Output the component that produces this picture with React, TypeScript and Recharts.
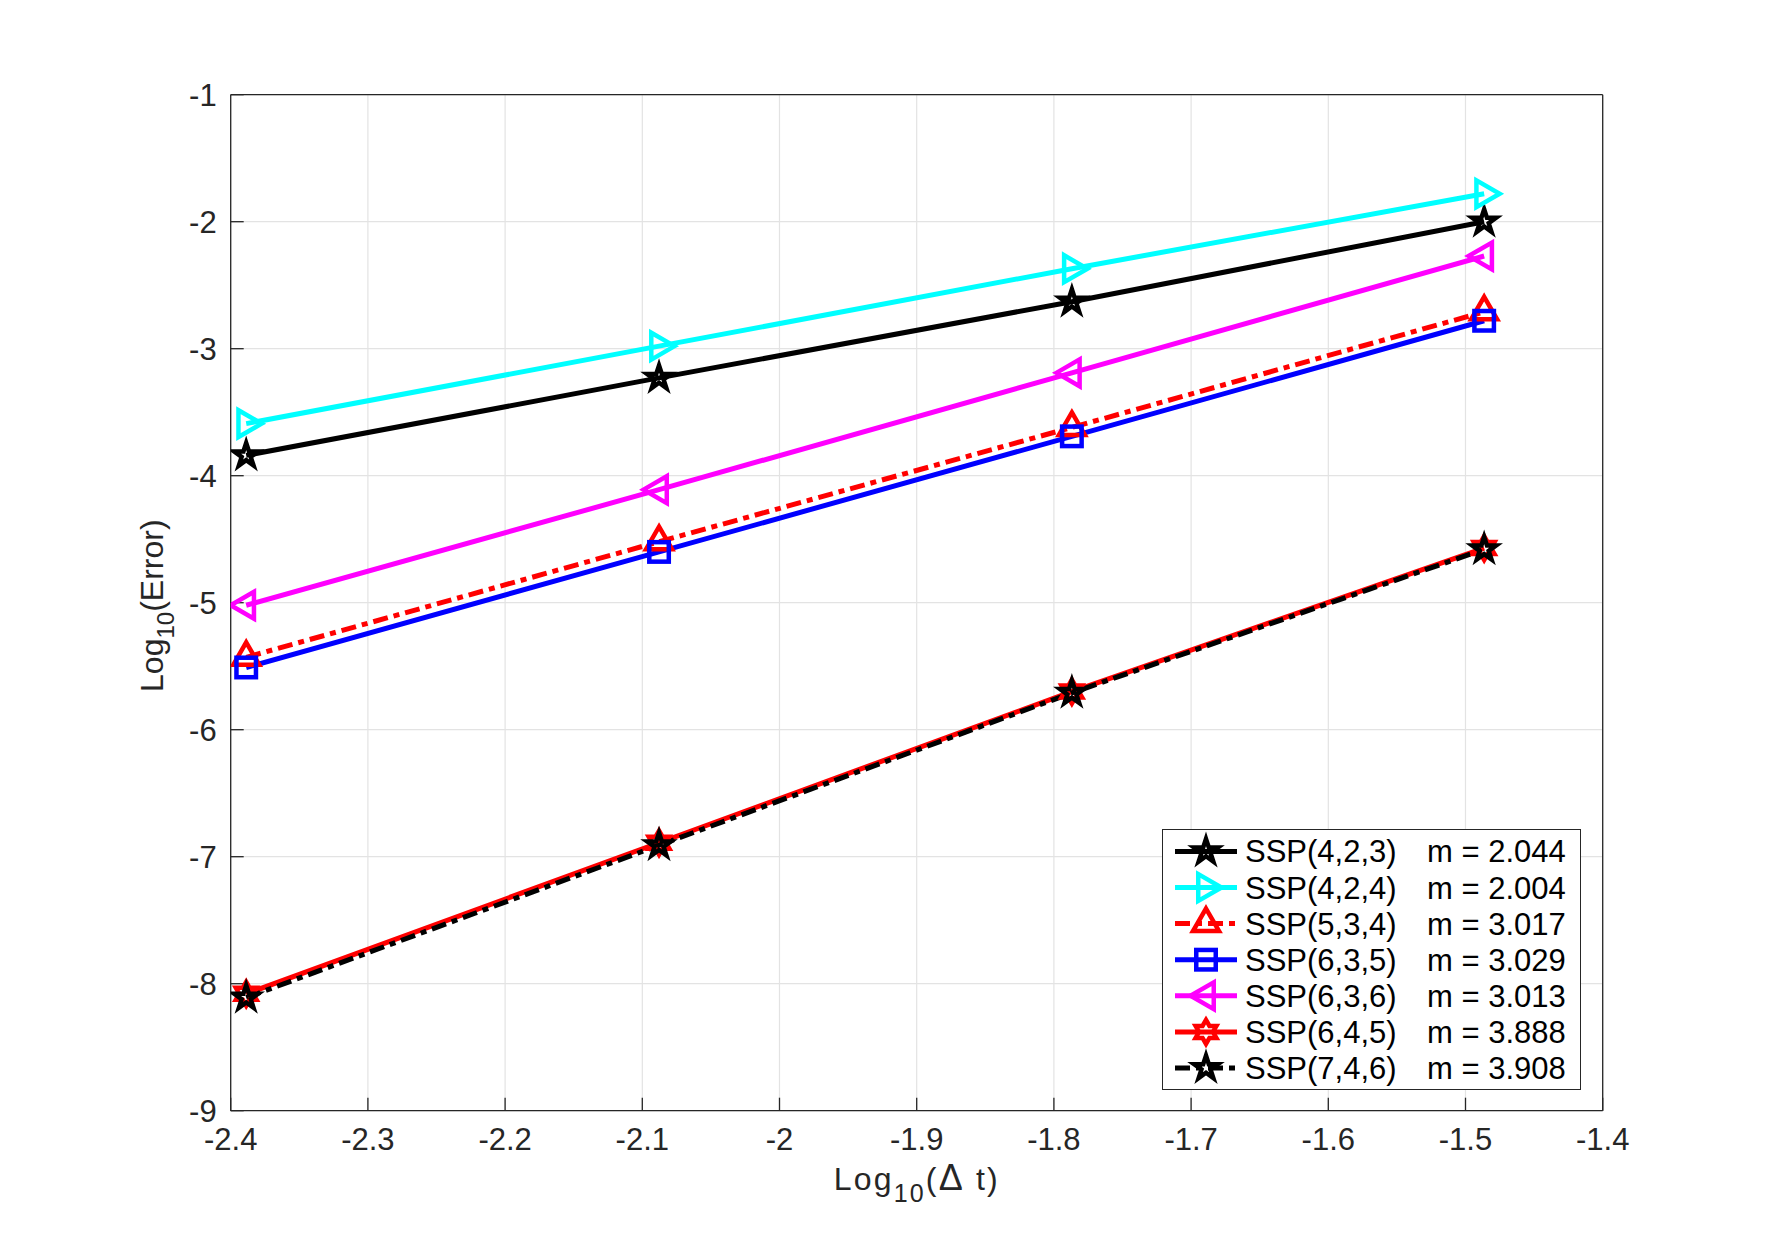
import React from "react";
import { CartesianGrid, Legend, Line, LineChart, XAxis, YAxis } from "recharts";

// log10(dt) at the four refinement levels
const logDt = [-2.3887, -2.0878, -1.7869, -1.4864];

// log10(error) for each scheme
const ssp423 = [-3.84, -3.23, -2.63, -2.0];
const ssp424 = [-3.59, -2.98, -2.37, -1.78];
const ssp534 = [-5.43, -4.52, -3.62, -2.71];
const ssp635 = [-5.51, -4.6, -3.69, -2.78];
const ssp636 = [-5.02, -4.11, -3.19, -2.27];
const ssp645 = [-8.08, -6.89, -5.7, -4.57];
const ssp746 = [-8.11, -6.91, -5.71, -4.58];

const seriesNames = ["SSP(4,2,3)", "SSP(4,2,4)", "SSP(5,3,4)", "SSP(6,3,5)", "SSP(6,3,6)", "SSP(6,4,5)", "SSP(7,4,6)"];
const slopes = ["2.044", "2.004", "3.017", "3.029", "3.013", "3.888", "3.908"];

const xTicks = [-2.4, -2.3, -2.2, -2.1, -2.0, -1.9, -1.8, -1.7, -1.6, -1.5, -1.4];
const yTicks = [-9, -8, -7, -6, -5, -4, -3, -2, -1];

type MarkerKind = "pentagram" | "hexagram" | "triRight" | "triUp" | "triLeft" | "square";

const series: { key: string; values: number[]; color: string; dash?: string; marker: MarkerKind }[] = [
  { key: "s423", values: ssp423, color: "#000000", marker: "pentagram" },
  { key: "s424", values: ssp424, color: "#00ffff", marker: "triRight" },
  { key: "s534", values: ssp534, color: "#ff0000", dash: "15 6 6 6", marker: "triUp" },
  { key: "s635", values: ssp635, color: "#0000ff", marker: "square" },
  { key: "s636", values: ssp636, color: "#ff00ff", marker: "triLeft" },
  { key: "s645", values: ssp645, color: "#ff0000", marker: "hexagram" },
  { key: "s746", values: ssp746, color: "#000000", dash: "15 6 6 6", marker: "pentagram" },
];

const rows = logDt.map((x, i) => {
  const row: Record<string, number> = { x };
  series.forEach((s) => (row[s.key] = s.values[i]));
  return row;
});

const FONT = "'Liberation Sans', Arial, Helvetica, sans-serif";
const INK = "#262626";
const LW = 5;
const MW = 4.5;

function starPoints(cx: number, cy: number, n: number, r1: number, r2: number) {
  const pts: string[] = [];
  for (let k = 0; k < 2 * n; k++) {
    const r = k % 2 === 0 ? r1 : r2;
    const a = -Math.PI / 2 + (k * Math.PI) / n;
    pts.push(`${cx + r * Math.cos(a)},${cy + r * Math.sin(a)}`);
  }
  return pts.join(" ");
}

function triPoints(cx: number, cy: number, r: number, startDeg: number) {
  const pts: string[] = [];
  for (let k = 0; k < 3; k++) {
    const a = ((startDeg + k * 120) * Math.PI) / 180;
    pts.push(`${cx + r * Math.cos(a)},${cy + r * Math.sin(a)}`);
  }
  return pts.join(" ");
}

function Marker({ kind, cx, cy, color }: { kind: MarkerKind; cx: number; cy: number; color: string }) {
  const common = { fill: "none", stroke: color, strokeWidth: MW, strokeLinejoin: "miter" as const, strokeMiterlimit: 10 };
  if (kind === "pentagram") return <polygon points={starPoints(cx, cy, 5, 12.5, 12.5 * 0.382)} {...common} />;
  if (kind === "hexagram") return <polygon points={starPoints(cx, cy, 6, 12, 12 / Math.sqrt(3))} {...common} />;
  if (kind === "triRight") return <polygon points={triPoints(cx, cy, 15.5, 0)} {...common} />;
  if (kind === "triUp") return <polygon points={triPoints(cx, cy, 15, -90)} {...common} />;
  if (kind === "triLeft") return <polygon points={triPoints(cx, cy, 15.5, 180)} {...common} />;
  return <rect x={cx - 9.75} y={cy - 9.75} width={19.5} height={19.5} {...common} />;
}

const fmt = (v: number) => String(Number(v.toFixed(1)));

function XLabel(props: any) {
  const vb = props.viewBox;
  const cx = vb.x + vb.width / 2 - 1;
  return (
    <text
      x={cx - 82}
      y={vb.y + 79}
      textLength={164}
      lengthAdjust="spacing"
      fontFamily={FONT}
      fontSize={32}
      fill={INK}
    >
      Log<tspan dy={12} fontSize={25}>10</tspan>
      <tspan dy={-12}>(</tspan>
      <tspan fontSize={36}>Δ</tspan>
      <tspan> t)</tspan>
    </text>
  );
}

function YLabel(props: any) {
  const vb = props.viewBox;
  const x = vb.x + 12;
  const y = vb.y + vb.height / 2 + 3;
  return (
    <text x={x} y={y} transform={`rotate(-90 ${x} ${y})`} textAnchor="middle" fontFamily={FONT} fontSize={32} fill={INK}>
      Log<tspan dy={11} fontSize={24}>10</tspan>
      <tspan dy={-11}>(Error)</tspan>
    </text>
  );
}

function LegendBox() {
  const rowH = 36.1;
  return (
    <div style={{ width: 419, height: 261, border: `1.5px solid ${INK}`, background: "#fff", boxSizing: "border-box" }}>
      <svg width={417} height={259} style={{ display: "block" }}>
        {series.map((s, i) => {
          const cy = 21.4 + i * rowH;
          return (
            <g key={s.key}>
              <line x1={12} x2={74} y1={cy} y2={cy} stroke={s.color} strokeWidth={LW} strokeDasharray={s.dash} />
              <Marker kind={s.marker} cx={43} cy={cy} color={s.color} />
              <text x={82} y={cy + 11} fontFamily={FONT} fontSize={31} fill="#000">
                {seriesNames[i]}
              </text>
              <text x={264} y={cy + 11} fontFamily={FONT} fontSize={31} fill="#000">
                {`m = ${slopes[i]}`}
              </text>
            </g>
          );
        })}
      </svg>
    </div>
  );
}

export default function App() {
  return (
    <div style={{ position: "absolute", left: 0, top: 0, width: 1771, height: 1250, background: "#fff" }}>
      <LineChart width={1771} height={1250} data={rows} margin={{ top: 84.7, right: 158.3, bottom: 39.3, left: 150.7 }}>
        <CartesianGrid stroke="#e3e3e3" strokeWidth={1.2} />
        <XAxis
          dataKey="x"
          type="number"
          domain={[-2.4, -1.4]}
          ticks={xTicks}
          tickFormatter={fmt}
          height={100}
          tickSize={-13}
          tickMargin={30}
          stroke={INK}
          strokeWidth={1.3}
          tick={{ fill: INK, fontSize: 31, fontFamily: FONT }}
          label={<XLabel />}
          allowDataOverflow
        />
        <XAxis
          xAxisId="top"
          orientation="top"
          dataKey="x"
          type="number"
          domain={[-2.4, -1.4]}
          ticks={xTicks}
          height={10}
          tickSize={-13}
          stroke={INK}
          strokeWidth={1.3}
          tick={false}
          allowDataOverflow
        />
        <YAxis
          type="number"
          domain={[-9, -1]}
          ticks={yTicks}
          tickFormatter={fmt}
          width={80}
          tickSize={-13}
          tickMargin={27}
          stroke={INK}
          strokeWidth={1.3}
          tick={{ fill: INK, fontSize: 31, fontFamily: FONT }}
          label={<YLabel />}
          allowDataOverflow
        />
        <YAxis
          yAxisId="right"
          orientation="right"
          type="number"
          domain={[-9, -1]}
          ticks={yTicks}
          width={10}
          tickSize={-13}
          stroke={INK}
          strokeWidth={1.3}
          tick={false}
          allowDataOverflow
        />
        {series.map((s) => (
          <Line
            key={s.key}
            dataKey={s.key}
            stroke={s.color}
            strokeWidth={LW}
            strokeDasharray={s.dash}
            type="linear"
            isAnimationActive={false}
            activeDot={false}
            dot={(p: any) => <Marker key={`${s.key}-${p.index}`} kind={s.marker} cx={p.cx} cy={p.cy} color={s.color} />}
          />
        ))}
        <Legend
          layout="horizontal"
          verticalAlign="middle"
          align="center"
          wrapperStyle={{ left: 1162, top: 829, width: 419, height: 261 }}
          content={() => <LegendBox />}
        />
      </LineChart>
    </div>
  );
}
